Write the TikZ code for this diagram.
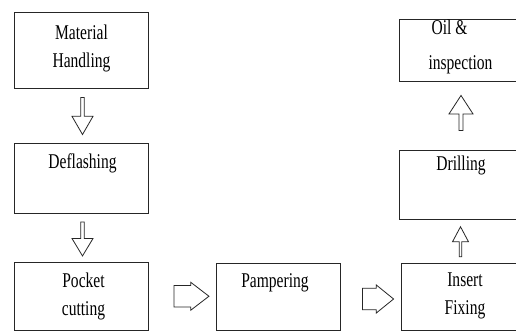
\documentclass[tikz,border=0pt]{standalone}
\usepackage{fontspec}
\setmainfont[FakeStretch=0.74]{Liberation Serif}
\usetikzlibrary{shapes.arrows}
\usetikzlibrary{calc}
\tikzstyle{stage}=[draw=black!85, line width=0.9pt, inner sep=0, outer sep=0]
\tikzstyle{stage text}=[anchor=north, inner sep=0, align=center, font=\fontsize{21}{28}\selectfont]
\tikzstyle{flow arrow}=[single arrow, draw=black!85, line width=0.8pt, inner xsep=0, outer sep=0,
  single arrow head extend=2]

\begin{document}
\begin{tikzpicture}[x=1pt, y=-1pt]
      \useasboundingbox[fill=white] (0, 0) rectangle (516, 331);
      \clip (0, 0) rectangle (516, 331);

      % left column
      \node[stage, minimum width=134, minimum height=76] (handling) at (81, 50) {};
      \node[stage, minimum width=134, minimum height=70] (deflash) at (81, 178) {};
      \node[stage, minimum width=134, minimum height=68] (pocket) at (81, 296) {};

      % bottom row
      \node[stage, minimum width=124, minimum height=67] (pamper) at (278, 296.5) {};
      \node[stage, minimum width=129, minimum height=67] (insert) at (465.5, 296.5) {};

      % right column
      \node[stage, minimum width=131, minimum height=69] (drill) at (464.5, 184.5) {};
      \node[stage, minimum width=131, minimum height=62] (oil) at (464.5, 50) {};

      \node[stage text] at ([xshift=0.5pt, yshift=-13pt]handling.north) {Material\\Handling};
      \node[stage text] at ([xshift=1.5pt, yshift=-11pt]deflash.north) {Deflashing};
      \node[stage text] at ([xshift=2.5pt, yshift=-11pt]pocket.north) {Pocket\\cutting};
      \node[stage text] at ([xshift=-3pt, yshift=-10pt]pamper.north) {Pampering};
      \node[stage text] at ([xshift=-0.5pt, yshift=-10pt]insert.north) {Insert\\Fixing};
      \node[stage text] at ([xshift=-3.5pt, yshift=-6pt]drill.north) {Drilling};
      \node[stage text, align=left, font=\fontsize{21}{35}\selectfont]
        at ([xshift=-4pt, yshift=-1pt]oil.north) {\hspace*{3pt}Oil \&\\inspection};

      % arrows between stages
      \node[flow arrow, shape border rotate=270, minimum height=37, minimum width=21,
        inner ysep=4.5, single arrow tip angle=60]
        (a_one) at ($(handling.south)!0.5!(deflash.north) + (1.5, -1)$) {};
      \node[flow arrow, shape border rotate=270, minimum height=34, minimum width=21,
        inner ysep=4.5, single arrow tip angle=62]
        (a_two) at ($(deflash.south)!0.5!(pocket.north) + (1.5, 0)$) {};
      \node[flow arrow, minimum height=35, minimum width=28,
        inner ysep=6, single arrow tip angle=75]
        (a_three) at ($(pocket.east)!0.5!(pamper.west) + (2.5, 0)$) {};
      \node[flow arrow, minimum height=31, minimum width=28,
        inner ysep=6, single arrow tip angle=78]
        (a_four) at ($(pamper.east)!0.5!(insert.west) + (1, 2.5)$) {};
      \node[flow arrow, shape border rotate=90, minimum height=30, minimum width=16,
        inner ysep=3.5, single arrow tip angle=56]
        (a_five) at ($(insert.north)!0.5!(drill.south) + (-4.5, 2)$) {};
      \node[flow arrow, shape border rotate=90, minimum height=35, minimum width=24,
        inner ysep=5.5, single arrow tip angle=66]
        (a_six) at ($(drill.north)!0.5!(oil.south) + (-3.5, -1)$) {};
    \end{tikzpicture}
\end{document}
